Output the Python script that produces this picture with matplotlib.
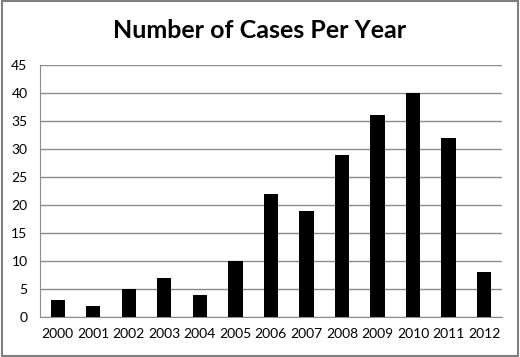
import matplotlib
matplotlib.use("Agg")
import matplotlib.pyplot as plt
from matplotlib.patches import Rectangle

years = ["2000", "2001", "2002", "2003", "2004", "2005", "2006",
         "2007", "2008", "2009", "2010", "2011", "2012"]
cases = [3, 2, 5, 7, 4, 10, 22, 19, 29, 36, 40, 32, 8]
yticks = [0, 5, 10, 15, 20, 25, 30, 35, 40, 45]

plt.rcParams['font.family'] = ['Lato', 'DejaVu Sans']

fig = plt.figure(figsize=(5.2, 3.57), dpi=100)
ax = fig.add_axes([0.077, 0.112, 0.888, 0.706])

x = list(range(len(years)))
ax.bar(x, cases, width=0.4, color='black', zorder=3)
ax.set_xlim(-0.5, len(years) - 0.5)
ax.set_ylim(0, 45)
ax.set_yticks(yticks)
ax.set_xticks(x)
ax.set_xticklabels(years)
ax.yaxis.grid(True, color='#8c8c8c', linewidth=1.0, zorder=0)
for s in ['top', 'right']:
    ax.spines[s].set_visible(False)
ax.spines['left'].set_color('#8c8c8c')
ax.spines['bottom'].set_color('#8c8c8c')
ax.tick_params(axis='both', length=0, labelsize=10, colors='black')
ax.tick_params(axis='x', pad=8)
ax.tick_params(axis='y', pad=9)

fig.text(0.5, 0.915, "Number of Cases Per Year", ha='center', va='center',
         fontsize=18, fontweight='bold')

fig.patches.append(Rectangle((0.003, 0.004), 0.994, 0.992, transform=fig.transFigure,
                             fill=False, edgecolor='#7f7f7f', linewidth=1.5))

fig.savefig("out.png", dpi=100)
